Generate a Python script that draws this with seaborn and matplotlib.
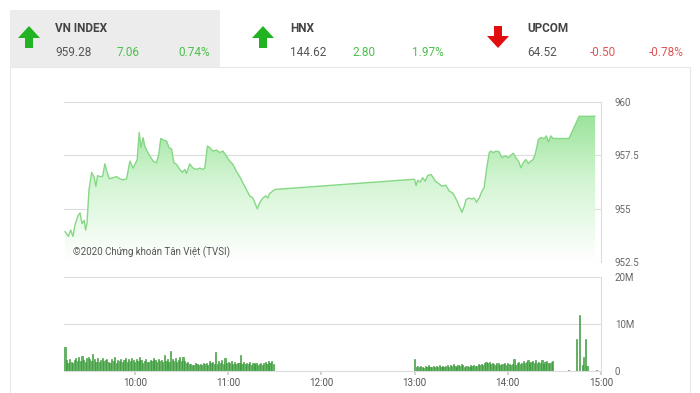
import numpy as np
import pandas as pd
import matplotlib
matplotlib.use("Agg")
import matplotlib.pyplot as plt
import seaborn as sns
from matplotlib.colors import LinearSegmentedColormap
from matplotlib.patches import Rectangle, Polygon

# ---------------- data ----------------
idx_names = ["VN INDEX", "HNX", "UPCOM"]
idx_close = ["959.28", "144.62", "64.52"]
idx_change = ["7.06", "2.80", "-0.50"]
idx_pct = ["0.74%", "1.97%", "-0.78%"]
idx_up = [True, True, False]

# minutes after 09:00
price_minutes = [15, 17.2, 18.7, 20.2, 21.5, 23.6, 24.7, 26.0, 27.4, 28.3, 29.2, 30.5, 32.2, 33.7, 34.9,
                 36.0, 37.5, 39.3, 40.7, 42.2, 43.5, 45.9, 48.2, 50.4, 52.3, 54.7, 56.8, 58.9, 61.5,
                 62.8, 63.9, 65.3, 66.4, 67.9, 69.6, 71.8, 73.9, 75.4, 76.7, 78.2, 80.4, 82.0, 83.6,
                 85.1, 86.8, 88.9, 90.6, 92.1, 93.2, 95.3, 97.4, 99.6, 101.8, 103.9, 105.0, 106.7,
                 108.2, 110.3, 112.5, 114.6, 116.7, 118.9, 121.0, 123.1, 125.3, 127.5, 129.6, 131.8,
                 133.9, 136.0, 138.2, 138.8, 140.3, 142.4, 144.2, 145.6, 146.7, 150.0,
                 240.0, 241.0, 242.0, 243.5, 245.2, 246.9, 248.4, 250.6, 251.6, 253.4, 255.5, 257.7,
                 260.2, 262.4, 264.5, 266.7, 268.8, 270.5, 272.0, 273.1, 274.8, 276.9, 278.4, 279.9,
                 281.6, 283.4, 284.8, 286.3, 288.1, 289.1, 290.6, 292.4, 294.5, 296.2, 298.3, 300.5,
                 302.0, 303.5, 305.2, 306.9, 308.4, 309.9, 311.6, 313.3, 314.8, 316.3, 317.6, 318.4,
                 319.7, 321.3, 323.4, 324.9, 326.1, 327.7, 329.2, 339.4, 345.9, 356.2]
price_values = [953.93, 953.7, 954.0, 953.7, 954.25, 954.7, 954.8, 954.3, 954.45, 954.0, 954.33, 955.9,
                956.7, 956.5, 956.05, 956.55, 956.5, 956.52, 957.1, 956.7, 956.4, 956.45, 956.5, 956.4,
                956.35, 956.4, 957.23, 956.9, 957.3, 958.57, 957.86, 958.33, 957.94, 957.7, 957.47,
                957.23, 957.15, 957.55, 958.29, 958.22, 958.17, 957.86, 957.8, 957.15, 957.08, 956.84,
                956.7, 956.84, 956.65, 957.1, 956.9, 956.84, 956.9, 956.84, 956.9, 957.94, 957.86,
                957.7, 957.75, 957.63, 957.7, 957.47, 957.23, 957.08, 956.76, 956.5, 956.2, 955.9,
                955.6, 955.5, 955.1, 954.99, 955.27, 955.5, 955.6, 955.5, 955.7, 955.9,
                956.38, 956.08, 956.33, 956.24, 956.45, 956.29, 956.55, 956.6, 956.5, 956.29, 956.18,
                956.05, 956.1, 955.82, 955.74, 955.46, 955.11, 954.83, 955.11, 955.42, 955.5, 955.45,
                955.5, 955.3, 955.5, 955.82, 955.98, 956.84, 957.63, 957.7, 957.63, 957.7, 957.66,
                957.39, 957.47, 957.39, 957.5, 957.6, 957.39, 957.23, 956.92, 957.15, 957.3, 957.12,
                957.23, 957.3, 957.55, 957.78, 958.25, 958.33, 958.29, 958.41, 958.13, 958.41, 958.29,
                958.29, 959.33, 959.33]

# volume (millions), one bar per minute
vol_am_start = 15   # 09:15
vol_am = [5.2,
          2.3, 1.8, 2.5, 2.0, 1.6, 2.4, 2.7, 2.1, 2.9, 2.2, 3.1, 2.4, 1.9, 2.8, 3.0,
          2.6, 2.2, 3.6, 2.5, 2.0, 2.7, 1.9, 2.4, 2.8, 2.1, 2.3, 2.6, 2.0, 1.8, 2.5,
          2.2, 2.9, 1.7, 2.4, 2.1, 2.6, 2.0, 2.3, 2.8, 1.9, 2.5, 2.2, 2.7, 2.4, 2.0,
          2.6, 2.2, 2.9, 2.3, 1.8, 2.1, 2.5, 2.0, 1.9, 2.4, 2.2, 2.7, 2.3, 2.0, 2.6,
          2.1, 2.4, 1.9, 3.3, 2.2, 2.5, 2.0, 4.3, 2.6, 2.2, 2.8, 1.9, 2.4, 3.0, 2.1,
          2.9, 2.2, 1.8, 2.0, 1.5, 1.4, 1.2, 1.3, 1.6, 1.4, 1.2, 1.5, 1.3, 1.7, 1.4,
          1.8, 1.3, 2.2, 1.6, 1.9, 1.4, 4.0, 1.5, 2.1, 1.7, 2.3, 1.4, 2.8, 1.6, 2.0,
          1.7, 2.2, 1.5, 1.9, 1.4, 1.8, 1.6, 3.3, 1.5, 2.0, 1.4, 1.7, 1.5, 1.9, 1.3,
          1.6, 1.4, 1.8, 1.3, 1.5, 1.7, 1.2, 1.6, 1.9, 1.4, 2.2, 1.7, 2.1, 1.5]
vol_pm_start = 240  # 13:00
vol_pm = [2.5, 0.9, 1.0, 0.8, 1.1, 0.9, 0.7, 1.0, 0.8, 1.2, 0.9, 0.8, 1.1, 0.9, 1.0,
          0.8, 1.2, 0.9, 1.1, 0.8, 1.0, 1.3, 0.9, 1.2, 1.0, 1.4, 1.1, 0.9, 1.3, 1.0,
          1.5, 1.2, 0.9, 1.1, 1.0, 0.8, 1.2, 1.0, 1.3, 1.1, 1.0, 1.4, 1.2, 1.5, 1.3,
          1.7, 2.0, 1.6, 1.9, 1.4, 1.8, 1.5, 1.3, 1.7, 1.6, 1.2, 1.5, 1.4, 1.8, 1.3,
          1.6, 1.4, 1.2, 1.5, 2.6, 1.3, 1.7, 1.9, 1.4, 1.6, 2.1, 1.8, 2.0, 2.3, 1.7,
          1.9, 2.2, 1.6, 2.4, 1.8, 2.0, 1.7, 2.3, 1.5, 1.9, 2.1, 1.6, 1.8, 2.0, 2.2]
atc_minutes = [339, 344, 346, 348, 349, 350, 351, 357]
atc_volume = [0.15, 6.8, 12.0, 1.3, 3.0, 6.8, 1.0, 0.15]

price_ticks = [952.5, 955, 957.5, 960]
price_tick_labels = ["952.5", "955", "957.5", "960"]
vol_ticks = [0, 10, 20]
vol_tick_labels = ["0", "10M", "20M"]
time_ticks = [60, 120, 180, 240, 300, 360]
time_tick_labels = ["10:00", "11:00", "12:00", "13:00", "14:00", "15:00"]
watermark = "©2020 Chứng khoán Tân Việt (TVSI)"

# ---------------- figure ----------------
sns.set_theme(style="white")
plt.rcParams["font.family"] = ["Roboto", "DejaVu Sans"]

W, H = 700, 393
fig = plt.figure(figsize=(7, 3.93), dpi=100)
fig.patch.set_facecolor("white")

# overlay for header in pixel coordinates
bg = fig.add_axes([0, 0, 1, 1], zorder=-1)
bg.set_xlim(0, W)
bg.set_ylim(H, 0)
bg.axis("off")
bg.add_patch(Rectangle((10, 10), 210, 57, facecolor="#ececec", edgecolor="none"))
bg.add_patch(Rectangle((10, 67), 680, 330, facecolor="none", edgecolor="#e8e8e8", lw=0.8))

green_arrow = "#22b322"
red_arrow = "#e00e0e"
green_txt = "#4cbf4c"
red_txt = "#e05555"
x_arrow = [29, 263, 498]
x_text = [55, 290, 527]
x_chg = [117, 352, 590]
x_pct = [178, 412, 649]


def arrow(cx, top, bottom, up, color):
    hw, sw, hh = 11, 4, 12
    if up:
        pts = [(cx, top), (cx + hw, top + hh), (cx + sw, top + hh), (cx + sw, bottom),
               (cx - sw, bottom), (cx - sw, top + hh), (cx - hw, top + hh)]
    else:
        pts = [(cx, bottom), (cx + hw, bottom - hh), (cx + sw, bottom - hh), (cx + sw, top),
               (cx - sw, top), (cx - sw, bottom - hh), (cx - hw, bottom - hh)]
    bg.add_patch(Polygon(pts, closed=True, facecolor=color, edgecolor="none"))


for i in range(3):
    col_a = green_arrow if idx_up[i] else red_arrow
    col_t = green_txt if idx_up[i] else red_txt
    arrow(x_arrow[i], 26, 48, idx_up[i], col_a)
    bg.text(x_text[i], 28, idx_names[i], fontsize=8.5, fontweight="bold", color="#444444",
            va="center", ha="left")
    bg.text(x_text[i], 52, idx_close[i], fontsize=8.5, color="#555555", va="center", ha="left")
    bg.text(x_chg[i], 52, idx_change[i], fontsize=8.5, color=col_t, va="center", ha="left")
    bg.text(x_pct[i], 52, idx_pct[i], fontsize=8.5, color=col_t, va="center", ha="left")

# ---------------- price axes ----------------
x0, x1 = 64 / W, 601 / W
ax1 = fig.add_axes([x0, 1 - 262 / H, x1 - x0, 160 / H])
ax2 = fig.add_axes([x0, 1 - 371 / H, x1 - x0, 94 / H])
xmin, xmax = 14.4, 360

price_df = pd.DataFrame({"minute": price_minutes, "price": price_values})
ymin, ymax = 952.5, 960

cmap = LinearSegmentedColormap.from_list("g", ["#ffffff", "#d4f5d4", "#8fe08f"])
grad = np.linspace(0, 1, 256).reshape(-1, 1)
im = ax1.imshow(grad, extent=[xmin, xmax, ymin, ymax], origin="lower", aspect="auto",
                cmap=cmap, zorder=1)
verts = [(price_minutes[0], ymin)] + list(zip(price_minutes, price_values)) + [(price_minutes[-1], ymin)]
clip = Polygon(verts, closed=True, facecolor="none", edgecolor="none", transform=ax1.transData)
ax1.add_patch(clip)
im.set_clip_path(clip)

sns.lineplot(data=price_df, x="minute", y="price", ax=ax1, color="#86d886", lw=1.0, zorder=3)

ax1.set_xlim(xmin, xmax)
ax1.set_ylim(ymin, ymax)
ax1.set_yticks(price_ticks)
ax1.set_yticklabels(price_tick_labels)
ax1.yaxis.tick_right()
ax1.tick_params(axis="y", length=0, labelsize=7, labelcolor="#666666", pad=10)
ax1.set_xticks([])
ax1.set_xlabel("")
ax1.set_ylabel("")
for yv in price_ticks:
    ax1.axhline(yv, color="#dcdcdc", lw=0.8, zorder=0.5)
for s in ["left", "top", "bottom"]:
    ax1.spines[s].set_visible(False)
ax1.spines["right"].set_color("#dcdcdc")
ax1.spines["right"].set_linewidth(0.8)
ax1.text(0.017, 0.025, watermark, transform=ax1.transAxes, fontsize=7, color="#555555",
         ha="left", va="bottom", zorder=4)

# ---------------- volume axes ----------------
vol_df = pd.DataFrame({
    "minute": list(range(vol_am_start, vol_am_start + len(vol_am)))
              + list(range(vol_pm_start, vol_pm_start + len(vol_pm))) + atc_minutes,
    "volume": vol_am + vol_pm + atc_volume,
})
for yv in vol_ticks:
    ax2.axhline(yv, color="#dcdcdc", lw=0.8, zorder=0.5)
sns.histplot(data=vol_df, x="minute", weights="volume", discrete=True, shrink=0.75, ax=ax2,
             color="#5dbb5d", edgecolor="#2f8f2f", linewidth=0.4, alpha=1, zorder=2)
ax2.set_xlim(xmin, xmax)
ax2.set_ylim(0, 20)
ax2.set_yticks(vol_ticks)
ax2.set_yticklabels(vol_tick_labels)
ax2.yaxis.tick_right()
ax2.tick_params(axis="y", length=0, labelsize=7, labelcolor="#666666", pad=10)
ax2.set_xticks(time_ticks)
ax2.set_xticklabels(time_tick_labels)
ax2.tick_params(axis="x", length=3, color="#cccccc", labelsize=7, labelcolor="#555555", pad=2,
                bottom=True)
ax2.set_xlabel("")
ax2.set_ylabel("")
for s in ["left", "top"]:
    ax2.spines[s].set_visible(False)
ax2.spines["bottom"].set_color("#dcdcdc")
ax2.spines["right"].set_color("#dcdcdc")
ax2.spines["right"].set_linewidth(0.8)
ax2.spines["bottom"].set_linewidth(0.8)

fig.savefig("out.png", dpi=100, facecolor="white")
